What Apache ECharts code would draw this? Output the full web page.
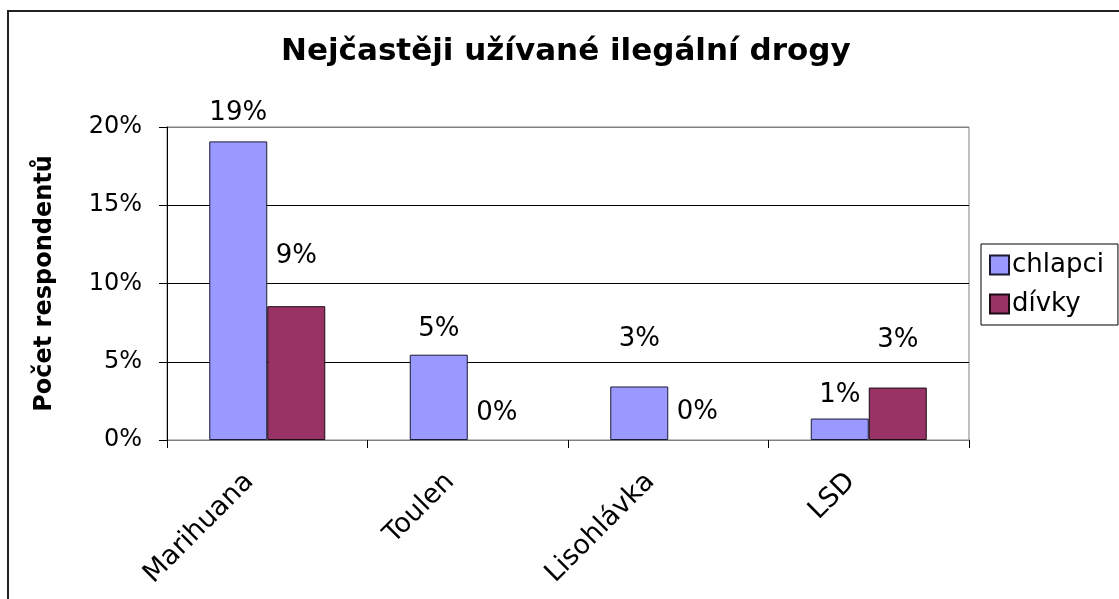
<!DOCTYPE html>
<html>
<head>
<meta charset="utf-8">
<title>Nejčastěji užívané ilegální drogy</title>
<script src="https://cdn.jsdelivr.net/npm/echarts@6/dist/echarts.min.js"></script>
<style>
  html, body { margin: 0; padding: 0; background: #fff; }
  #chart { width: 1119px; height: 599px; }
</style>
</head>
<body>
<div id="chart"></div>
<script>
// data
var categories = ['Marihuana', 'Toulen', 'Lisohlávka', 'LSD'];
var seriesNames = ['chlapci', 'dívky'];
var boys = [19.08, 5.45, 3.42, 1.37];
var girls = [8.55, 0, 0, 3.35];
var yTicks = [0, 5, 10, 15, 20];

// label lift above each bar (px), as placed in the original
var boysLabelGap = [15, 12, 34, 10];
var girlsLabelGap = [37, 14, 15, 34];

var FONT = 'DejaVu Sans';
var colors = ['#9999ff', '#993366'];

function makeData (values, gaps) {
  return values.map(function (v, i) {
    var item = { value: v, label: { distance: gaps[i] } };
    if (v === 0) {
      item.itemStyle = { borderWidth: 0 }; // no outline on empty bars
    }
    return item;
  });
}

var chart = echarts.init(document.getElementById('chart'));
chart.setOption({
  animation: false,
  textStyle: { fontFamily: FONT, color: '#000' },
  title: {
    text: 'Nejčastěji užívané ilegální drogy',
    left: 281,
    top: 36,
    padding: 0,
    textStyle: { fontFamily: FONT, fontSize: 31, fontWeight: 'bold', color: '#000' }
  },
  graphic: [{
    type: 'rect',
    shape: { x: 8, y: 11, width: 1200, height: 700 },
    style: { fill: null, stroke: '#222', lineWidth: 2 },
    silent: true
  }],
  legend: {
    orient: 'vertical',
    left: 981,
    top: 244,
    padding: [8, 14, 8, 8],
    itemGap: 13,
    itemWidth: 19,
    itemHeight: 19,
    borderColor: '#000',
    borderWidth: 1,
    icon: 'rect',
    data: seriesNames,
    textStyle: { fontFamily: FONT, fontSize: 26, color: '#000', padding: [0, 0, 0, -2] }
  },
  grid: {
    left: 167,
    right: 150,
    top: 127,
    bottom: 159,
    show: true,
    borderColor: '#808080',
    borderWidth: 1
  },
  xAxis: {
    type: 'category',
    data: categories,
    axisLine: { lineStyle: { color: '#808080', width: 1 } },
    axisTick: { show: true, length: 8, alignWithLabel: false, lineStyle: { color: '#000' } },
    axisLabel: {
      rotate: 45,
      margin: 20,
      padding: [0, 25, 0, 0],
      fontFamily: FONT,
      fontSize: 27,
      color: '#000'
    }
  },
  yAxis: {
    type: 'value',
    min: yTicks[0],
    max: yTicks[yTicks.length - 1],
    interval: yTicks[1] - yTicks[0],
    name: 'Počet respondentů',
    nameLocation: 'middle',
    nameRotate: 90,
    nameGap: 110,
    nameTextStyle: { fontFamily: FONT, fontSize: 24, fontWeight: 'bold', color: '#000' },
    axisLine: { show: true, lineStyle: { color: '#000', width: 1 } },
    axisTick: { show: true, length: 8, lineStyle: { color: '#000' } },
    axisLabel: {
      margin: 25,
      fontFamily: FONT,
      fontSize: 24,
      color: '#000',
      formatter: '{value}%'
    },
    splitLine: {
      show: true,
      lineStyle: { color: ['#000', '#000', '#000', '#000', '#808080'], width: 1 }
    }
  },
  series: [
    {
      name: seriesNames[0],
      type: 'bar',
      barWidth: 58,
      barGap: '0%',
      data: makeData(boys, boysLabelGap),
      itemStyle: { color: colors[0], borderColor: '#1a1a33', borderWidth: 1 },
      label: {
        show: true,
        position: 'top',
        fontFamily: FONT,
        fontSize: 26,
        color: '#000',
        formatter: function (p) { return Math.round(p.value) + '%'; }
      }
    },
    {
      name: seriesNames[1],
      type: 'bar',
      barWidth: 58,
      barGap: '0%',
      data: makeData(girls, girlsLabelGap),
      itemStyle: { color: colors[1], borderColor: '#1a0a12', borderWidth: 1 },
      label: {
        show: true,
        position: 'top',
        fontFamily: FONT,
        fontSize: 26,
        color: '#000',
        formatter: function (p) { return Math.round(p.value) + '%'; }
      }
    }
  ]
});
</script>
</body>
</html>
